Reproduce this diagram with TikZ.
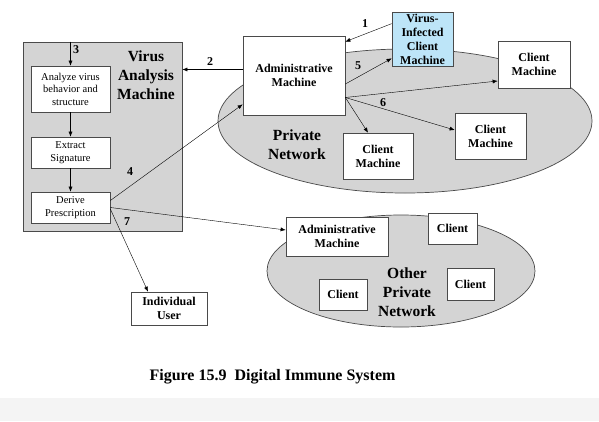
\documentclass[tikz,border=0pt]{standalone}
\usepackage{fontspec}
\setmainfont{Liberation Serif}
\usetikzlibrary{arrows.meta}
\definecolor{netgray}{HTML}{D4D4D4}
\definecolor{infblue}{HTML}{BDE5F8}
\definecolor{bandgray}{HTML}{F4F4F4}
\definecolor{edgegray}{HTML}{4A4A4A}

\begin{document}
\begin{tikzpicture}[x=1pt,y=-1pt,>={Latex[length=5pt,width=4pt]},
  machine/.style={draw=edgegray,fill=white,line width=0.7pt,inner sep=0pt,align=center,
    font=\fontsize{12}{14}\selectfont\bfseries},
  stepbox/.style={draw=edgegray,fill=white,line width=0.7pt,inner sep=0pt,align=center,
    minimum width=79pt,font=\fontsize{10.5}{12.5}\selectfont},
  num/.style={inner sep=0pt,font=\fontsize{12}{14}\selectfont\bfseries},
  bigtext/.style={align=center,inner sep=0pt,font=\fontsize{15.5}{19}\selectfont\bfseries},
  cloud/.style={draw=edgegray,fill=netgray,line width=0.7pt}]

\useasboundingbox (0,0) rectangle (599,421);
\fill[bandgray] (0,398) rectangle (599,421);

% virus analysis machine
\node[cloud,line width=0.8pt,minimum width=159pt,minimum height=189pt] (vam) at (102.5,136.5) {};
\node[bigtext] (vamtxt) at (146,75) {Virus\\Analysis\\Machine};
\node[stepbox,minimum height=46pt] (analyze) at (70.5,89) {Analyze virus\\behavior and\\structure};
\node[stepbox,minimum height=31pt] (extract) at (70.5,152.5) {Extract\\Signature};
\node[stepbox,minimum height=31pt] (derive) at (70.5,207.5) {Derive\\Prescription};

% private network
\draw[cloud] (405,121) ellipse [x radius=187pt, y radius=72pt];
\node[bigtext] (pntxt) at (297,145) {Private\\Network};
\node[machine,minimum width=102pt,minimum height=79pt] (admin) at (294,75.5) {Administrative\\Machine};
\node[machine,fill=infblue,minimum width=61pt,minimum height=54pt] (virus) at (422.5,39) {Virus-\\Infected\\Client\\Machine};
\node[machine,minimum width=72pt,minimum height=47pt] (cm1) at (534,64.5) {Client\\Machine};
\node[machine,minimum width=71pt,minimum height=46pt] (cm2) at (490.5,136) {Client\\Machine};
\node[machine,minimum width=70pt,minimum height=46pt] (cm3) at (378,156) {Client\\Machine};

% other private network
\draw[cloud] (401,271) ellipse [x radius=134pt, y radius=56pt];
\node[bigtext] (opntxt) at (407,292) {Other\\Private\\Network};
\node[machine,minimum width=102pt,minimum height=39pt] (oadmin) at (337,236.5) {Administrative\\Machine};
\node[machine,minimum width=49pt,minimum height=31pt] (oc1) at (452.5,228.5) {Client};
\node[machine,minimum width=47pt,minimum height=32pt] (oc2) at (470.5,284) {Client};
\node[machine,minimum width=48pt,minimum height=31pt] (oc3) at (343,294.5) {Client};

\node[machine,minimum width=76pt,minimum height=33pt] (user) at (169,308.5) {Individual\\User};

% arrows
\draw[->] ([yshift=-12pt]virus.north west) -- ([yshift=-6pt]admin.north east);
\coordinate (a2) at ([yshift=6pt]admin.west);
\draw[->] (a2) -- (vam.east |- a2);
\draw[->] (analyze.north |- vam.north) -- (analyze.north);
\draw[->] (analyze.south) -- (extract.north);
\draw[->] (extract.south) -- (derive.north);
\draw[->] ([yshift=7pt]derive.east) -- ([yshift=11pt]admin.south west);
\draw[->] ([yshift=-8.5pt]admin.east) -- ([yshift=8pt]virus.south west);
\coordinate (fan) at ([yshift=-22pt]admin.east);
\draw[->] (fan) -- ([yshift=-16.5pt]cm1.west);
\draw[->] (fan) -- ([yshift=6pt]cm2.west);
\draw[->] (fan) -- ([xshift=-10pt]cm3.north);
\draw[->] (derive.east) -- ([yshift=6.5pt]oadmin.west);
\draw[->] ([yshift=-1.5pt]derive.east) -- ([xshift=-21pt]user.north);

% step numbers
\node[num] (n1) at (365,24) {1};
\node[num] (n2) at (210,62) {2};
\node[num] (n3) at (76,50) {3};
\node[num] (n4) at (130,172) {4};
\node[num] (n5) at (358,66) {5};
\node[num] (n6) at (383,103) {6};
\node[num] (n7) at (127,222) {7};

\node[inner sep=0pt,font=\fontsize{16}{19}\selectfont\bfseries] (caption) at (272.5,377) {Figure 15.9\ \ Digital Immune System};

\end{tikzpicture}
\end{document}
